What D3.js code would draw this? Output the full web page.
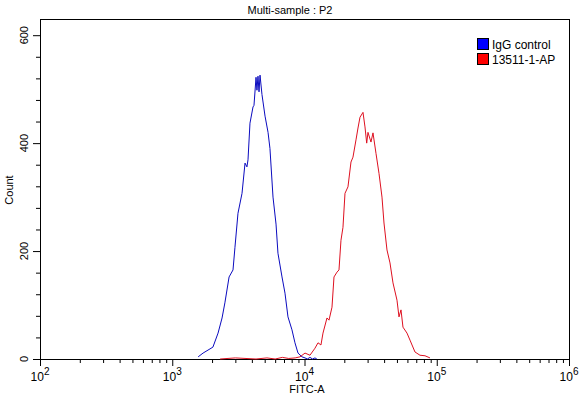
<!DOCTYPE html>
<html>
<head>
<meta charset="utf-8">
<script src="https://cdn.jsdelivr.net/npm/d3@7"></script>
<style>
  body { margin: 0; background: #fff; }
  svg { display: block; font-family: Arial, "Liberation Sans", sans-serif; }
  .axis path { display: none; }
  .axis line { stroke: #000; }
</style>
</head>
<body>
<div id="chart"></div>
<script>
// histogram traces (FITC-A value, count)
var iggX = [1570, 1710, 2030, 2220, 2380, 2500, 2690, 2880, 2980, 3140, 3370, 3550, 3670, 3740, 3870, 4080, 4150, 4300, 4370, 4450, 4530, 4610, 4770, 5030, 5300, 5480, 5780, 6090, 6300, 6760, 7120, 7500, 8040, 8470, 8930, 9570, 10090, 10500, 11000, 11500, 12000, 12400];
var iggY = [4, 11, 22, 48, 76, 104, 152, 165, 207, 270, 307, 363, 356, 369, 437, 467, 470, 522, 498, 524, 495, 526, 490, 450, 420, 390, 300, 250, 196, 152, 122, 78, 54, 30, 11, 4, 2, 0, 3, 0, 2, 0];

var apX = [2300, 3000, 4300, 5200, 6000, 6800, 7600, 8500, 9250, 10090, 11000, 12000, 12650, 13320, 13800, 14790, 15320, 16140, 16710, 17610, 18230, 18870, 19540, 20240, 21320, 22460, 23260, 24510, 25380, 26280, 27690, 28670, 29530, 30200, 31820, 32950, 34720, 36580, 38540, 39910, 42050, 44300, 46680, 50040, 51820, 53660, 55550, 59560, 62760, 68450, 74660, 81470, 88900];
var apY = [0, 2, 0, 2, 0, 3, 1, 2, 4, 11, 7, 20, 30, 26, 48, 76, 72, 96, 152, 161, 165, 220, 244, 307, 319, 365, 374, 406, 428, 448, 457, 430, 400, 420, 402, 419, 381, 344, 300, 252, 202, 178, 141, 109, 78, 91, 59, 48, 35, 13, 7, 6, 2];

var seriesNames = ["IgG control", "13511-1-AP"];
var seriesColors = ["#0b0bbf", "#de1020"];
var legendColors = ["#0000ff", "#ff0000"];

var xMajor = [1e2, 1e3, 1e4, 1e5, 1e6];
var xExp = ["2", "3", "4", "5", "6"];
var yMajor = [0, 200, 400, 600];
var yMinor = [40, 80, 120, 160, 240, 280, 320, 360, 440, 480, 520, 560];

var plotL = 40, plotR = 569, plotT = 19, plotB = 359;

var svg = d3.select("#chart").append("svg")
  .attr("width", 585).attr("height", 397);

var xScale = d3.scaleLog().domain([1e2, 1e6]).range([plotL, plotR]);
var yScale = d3.scaleLinear().domain([0, 630]).range([plotB, plotT]);

// minor x ticks 2..9 in each decade
var xMinor = [];
for (var d = 0; d < 4; d++) {
  for (var k = 2; k < 10; k++) xMinor.push(k * xMajor[d]);
}

svg.append("g").attr("class", "axis")
  .attr("transform", "translate(0," + plotB + ")")
  .call(d3.axisBottom(xScale).tickValues(xMinor).tickSize(4).tickFormat(""));

svg.append("g").attr("class", "axis")
  .attr("transform", "translate(0," + plotB + ")")
  .call(d3.axisBottom(xScale).tickValues(xMajor).tickSize(7).tickFormat(""));

svg.append("g").attr("class", "axis")
  .attr("transform", "translate(" + plotL + ",0)")
  .call(d3.axisLeft(yScale).tickValues(yMinor).tickSize(4).tickFormat(""));

svg.append("g").attr("class", "axis")
  .attr("transform", "translate(" + plotL + ",0)")
  .call(d3.axisLeft(yScale).tickValues(yMajor).tickSize(7).tickFormat(""));

// x labels with superscript exponent
var xl = svg.selectAll(".xlab").data(xMajor).enter().append("text")
  .attr("class", "xlab")
  .attr("x", function(v) { return xScale(v); })
  .attr("y", 381)
  .attr("text-anchor", "middle")
  .attr("font-size", 12)
  .attr("fill", "#000");
xl.append("tspan").text("10");
xl.append("tspan").attr("dy", -6).attr("font-size", 10)
  .text(function(v, i) { return xExp[i]; });

// y labels rotated
svg.selectAll(".ylab").data(yMajor).enter().append("text")
  .attr("class", "ylab")
  .attr("transform", function(v) { return "translate(28," + yScale(v) + ") rotate(-90)"; })
  .attr("text-anchor", "middle")
  .attr("font-size", 11)
  .attr("fill", "#000")
  .text(function(v) { return v; });

// frame
svg.append("rect")
  .attr("x", plotL + 0.5).attr("y", plotT + 0.5)
  .attr("width", plotR - plotL).attr("height", plotB - plotT)
  .attr("fill", "none").attr("stroke", "#000");

// curves
var line = d3.line()
  .x(function(p) { return xScale(p[0]); })
  .y(function(p) { return yScale(p[1]); });

var curves = [
  d3.zip(iggX, iggY),
  d3.zip(apX, apY)
];

svg.selectAll(".curve").data(curves).enter().append("path")
  .attr("class", "curve")
  .attr("d", line)
  .attr("fill", "none")
  .attr("stroke", function(c, i) { return seriesColors[i]; })
  .attr("stroke-width", 1);

// titles
svg.append("text")
  .attr("x", 290).attr("y", 14)
  .attr("text-anchor", "middle").attr("font-size", 11)
  .text("Multi-sample : P2");

svg.append("text")
  .attr("x", 307).attr("y", 393)
  .attr("text-anchor", "middle").attr("font-size", 11)
  .text("FITC-A");

svg.append("text")
  .attr("transform", "translate(13,190) rotate(-90)")
  .attr("text-anchor", "middle").attr("font-size", 11)
  .text("Count");

// legend
var lg = svg.selectAll(".leg").data(seriesNames).enter().append("g")
  .attr("class", "leg")
  .attr("transform", function(n, i) { return "translate(477," + (38 + i * 15) + ")"; });
lg.append("rect")
  .attr("x", 0.5).attr("y", 0.5).attr("width", 11).attr("height", 11)
  .attr("fill", function(n, i) { return legendColors[i]; })
  .attr("stroke", "#000");
lg.append("text")
  .attr("x", 15).attr("y", 10.5)
  .attr("font-size", 12)
  .text(function(n) { return n; });
</script>
</body>
</html>
